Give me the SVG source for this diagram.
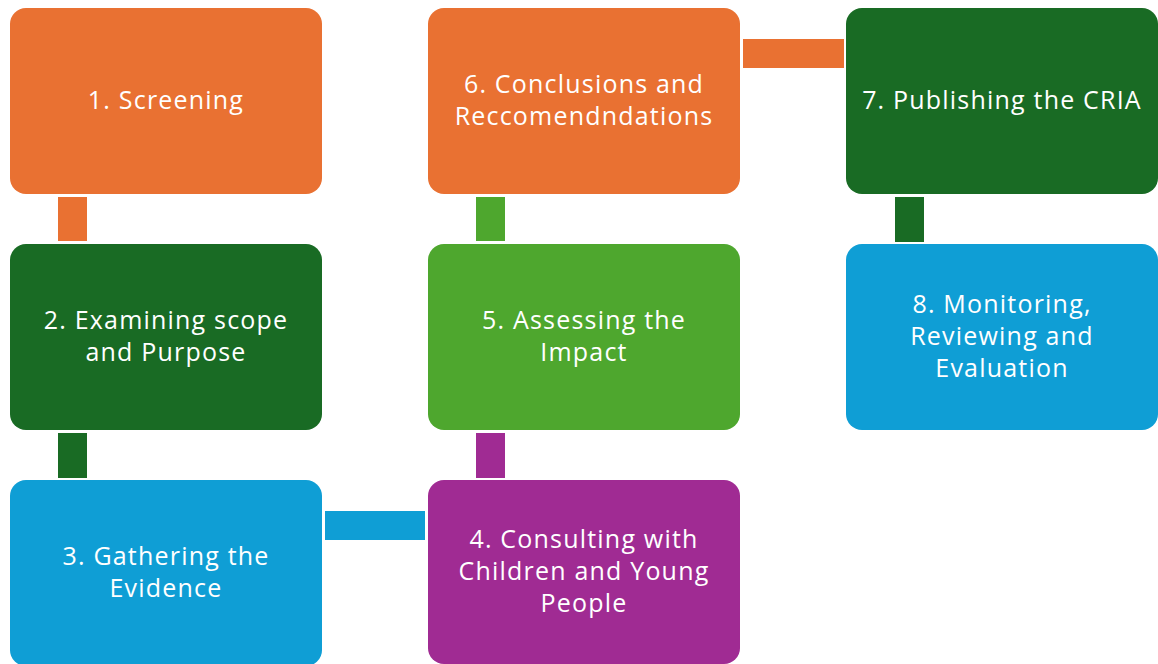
<svg xmlns="http://www.w3.org/2000/svg" width="1158" height="664" viewBox="0 0 1158 664">
  <style>
    .box { stroke: none; }
    .lbl { font-family: "Open Sans", "Liberation Sans", sans-serif; font-size: 25px; letter-spacing: 1.2px; fill: #ffffff; text-anchor: middle; }
    .orange { fill: #E97132; }
    .dkgreen { fill: #196B24; }
    .blue { fill: #0F9ED5; }
    .purple { fill: #A02B93; }
    .ltgreen { fill: #4EA72E; }
  </style>
  <rect width="1158" height="664" fill="#ffffff"/>

  <!-- connectors between steps -->
  <g id="connectors">
    <rect class="orange" x="58" y="197" width="29" height="44"/>
    <rect class="dkgreen" x="58" y="433" width="29" height="45"/>
    <rect class="blue" x="325" y="511" width="100" height="29"/>
    <rect class="purple" x="476" y="433" width="29" height="45"/>
    <rect class="ltgreen" x="476" y="197" width="29" height="44"/>
    <rect class="orange" x="743" y="39" width="101" height="29"/>
    <rect class="dkgreen" x="895" y="197" width="29" height="45"/>
  </g>

  <g id="step1">
    <rect class="box orange" x="10" y="8" width="312" height="186" rx="16"/>
    <text class="lbl" x="166" y="109">1. Screening</text>
  </g>
  <g id="step2">
    <rect class="box dkgreen" x="10" y="244" width="312" height="186" rx="16"/>
    <text class="lbl" x="166" y="329">2. Examining scope</text>
    <text class="lbl" x="166" y="361">and Purpose</text>
  </g>
  <g id="step3">
    <rect class="box blue" x="10" y="480" width="312" height="186" rx="16"/>
    <text class="lbl" x="166" y="565">3. Gathering the</text>
    <text class="lbl" x="166" y="597">Evidence</text>
  </g>
  <g id="step4">
    <rect class="box purple" x="428" y="480" width="312" height="184" rx="16"/>
    <text class="lbl" x="584" y="548">4. Consulting with</text>
    <text class="lbl" x="584" y="580">Children and Young</text>
    <text class="lbl" x="584" y="612">People</text>
  </g>
  <g id="step5">
    <rect class="box ltgreen" x="428" y="244" width="312" height="186" rx="16"/>
    <text class="lbl" x="584" y="329">5. Assessing the</text>
    <text class="lbl" x="584" y="361">Impact</text>
  </g>
  <g id="step6">
    <rect class="box orange" x="428" y="8" width="312" height="186" rx="16"/>
    <text class="lbl" x="584" y="93">6. Conclusions and</text>
    <text class="lbl" x="584" y="125">Reccomendndations</text>
  </g>
  <g id="step7">
    <rect class="box dkgreen" x="846" y="8" width="312" height="186" rx="16"/>
    <text class="lbl" x="1002" y="109">7. Publishing the CRIA</text>
  </g>
  <g id="step8">
    <rect class="box blue" x="846" y="244" width="312" height="186" rx="16"/>
    <text class="lbl" x="1002" y="313">8. Monitoring,</text>
    <text class="lbl" x="1002" y="345">Reviewing and</text>
    <text class="lbl" x="1002" y="377">Evaluation</text>
  </g>
</svg>
